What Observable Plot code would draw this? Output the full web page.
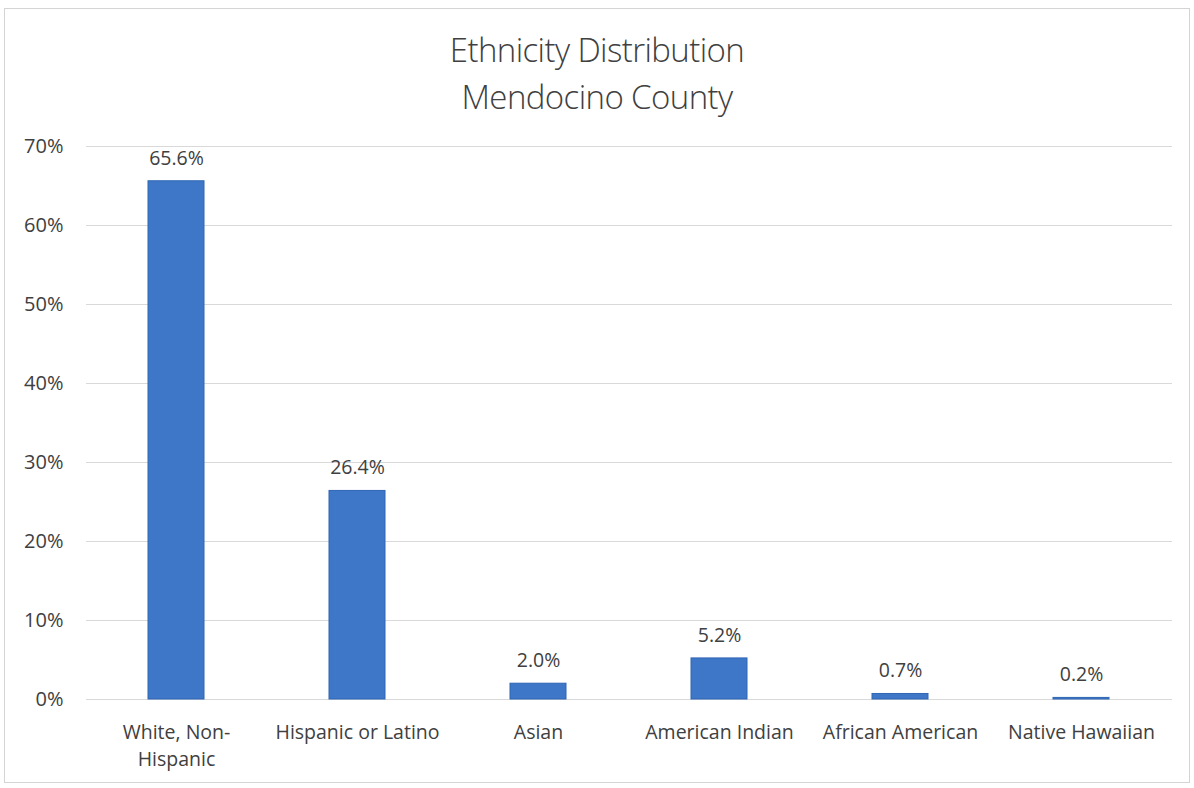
<!DOCTYPE html>
<html>
<head>
<meta charset="utf-8">
<script src="https://cdn.jsdelivr.net/npm/d3@7"></script>
<script src="https://cdn.jsdelivr.net/npm/@observablehq/plot@0.6"></script>
<style>
  html, body { margin: 0; padding: 0; background: #fff; }
  #frame {
    position: absolute; left: 4px; top: 8px; width: 1186px; height: 775px;
    border: 1px solid #d4d4d4; box-sizing: border-box;
  }
  #wrap { position: absolute; left: 0; top: 0; width: 1194px; }
  .title {
    height: 120px; box-sizing: border-box; padding-top: 26px;
    text-align: center; font-family: "Open Sans", sans-serif; font-weight: 300;
    font-size: 33px; line-height: 47px; color: #404040; letter-spacing: -0.6px;
  }
  svg { display: block; }
</style>
</head>
<body>
<div id="frame"></div>
<div id="wrap">
  <div class="title">Ethnicity Distribution<br>Mendocino County</div>
  <div id="chart"></div>
</div>
<script>
const categories = ["White, Non-Hispanic", "Hispanic or Latino", "Asian", "American Indian", "African American", "Native Hawaiian"];
const values = [65.6, 26.4, 2.0, 5.2, 0.7, 0.2];
const yTicks = [0, 10, 20, 30, 40, 50, 60, 70];
const xTickLabels = ["White, Non-\nHispanic", "Hispanic or Latino", "Asian", "American Indian", "African American", "Native Hawaiian"];

const data = categories.map((c, i) => ({category: c, value: values[i]}));
const labelOf = new Map(categories.map((c, i) => [c, xTickLabels[i]]));

const chart = Plot.plot({
  width: 1194,
  height: 668,
  marginTop: 26,
  marginBottom: 89,
  marginLeft: 86,
  marginRight: 22,
  style: {fontFamily: "'Open Sans', sans-serif", fontSize: "19.5px", color: "#404040", background: "transparent"},
  x: {domain: categories, paddingInner: 0.69, paddingOuter: 0.345, align: 0.5, label: null},
  y: {domain: [0, 70], ticks: yTicks, label: null},
  marks: [
    Plot.ruleY(yTicks, {stroke: "#d9d9d9", strokeWidth: 1}),
    Plot.barY(data, {x: "category", y: "value", fill: "#3f77c8", stroke: "#2f66b3", strokeWidth: 1}),
    Plot.text(data, {x: "category", y: "value", text: d => d.value.toFixed(1) + "%", dy: -23, fontSize: 19.5, fill: "#404040"}),
    Plot.axisY({ticks: yTicks, tickFormat: d => d + "%", tickSize: 0, tickPadding: 23, fontSize: 20, label: null}),
    Plot.axisX({tickSize: 0, tickPadding: 20, fontSize: 19.5, tickFormat: d => labelOf.get(d), label: null, lineHeight: 1.4})
  ]
});
document.getElementById("chart").appendChild(chart);
</script>
</body>
</html>
